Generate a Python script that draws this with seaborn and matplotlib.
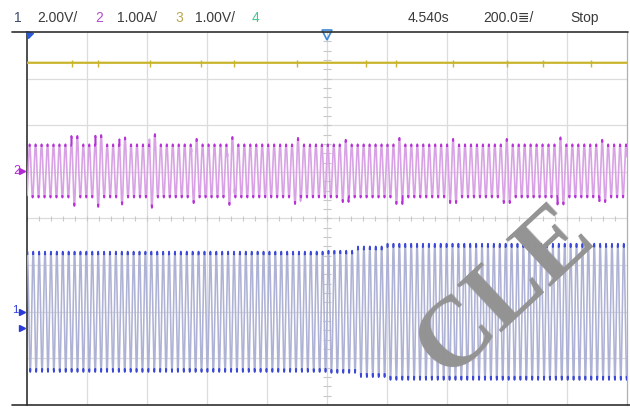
import numpy as np
import pandas as pd
import matplotlib
matplotlib.use('Agg')
import matplotlib.pyplot as plt
from matplotlib.lines import Line2D
import seaborn as sns

# ---------- scope settings ----------
time_per_div = 0.2          # 200.0 ms/div
n_xdiv = 10
n_ydiv = 8

ch1_volts_per_div = 2.0
ch1_offset_div = -2.0
ch1_freq_hz = 50.8
# peak voltage per half division (20 steps across the screen)
ch1_peak_v = [2.58, 2.58, 2.58, 2.58, 2.58, 2.58, 2.58, 2.58, 2.58, 2.58,
              2.62, 2.80, 2.92, 2.92, 2.92, 2.92, 2.92, 2.92, 2.92, 2.92]

ch2_amps_per_div = 1.0
ch2_offset_div = 1.02
ch2_freq_hz = 50.3
ch2_peak_a = 0.57
# occasional overshoots: (position in div, extra amplitude in A)
ch2_spike_pos = [-4.2, -3.8, -3.4, -2.9, -2.2, -1.6, -0.5, 0.3, 1.2, 2.1, 3.0, 3.9, 4.6]
ch2_spike_amp = [0.18, -0.20, 0.15, -0.22, 0.12, 0.16, -0.14, 0.10, 0.14, -0.12, 0.12, 0.15, -0.10]

ch3_volts_per_div = 1.0
ch3_offset_div = 3.34
ch3_glitch_pos = [-4.25, -3.82, -2.95, -2.1, -1.55, -0.5, 0.65, 1.15, 2.1, 3.0, 3.6, 4.4]

header_left = [('1', '#404a6a'), ('2.00V/', '#3a3a3a'), ('2', '#b050c8'),
               ('1.00A/', '#3a3a3a'), ('3', '#b8a850'), ('1.00V/', '#3a3a3a'),
               ('4', '#40c890')]
header_left_x = [14, 37, 95, 117, 175, 195, 252]
header_right = ['4.540s', '200.0\u2263/', 'Stop']
header_right_x = [408, 483, 570]

# ---------- build the traces ----------
t = np.linspace(-n_xdiv / 2 * time_per_div, n_xdiv / 2 * time_per_div, 24000)
xdiv = t / time_per_div

step = np.clip(((xdiv + 5) * 2).astype(int), 0, len(ch1_peak_v) - 1)
ch1_env = np.array(ch1_peak_v)[step]
ch1_phase = np.sin(2 * np.pi * ch1_freq_hz * t)
ch1 = ch1_offset_div + ch1_env * ch1_phase / ch1_volts_per_div

ch2_env = np.full_like(t, ch2_peak_a)
for p, a in zip(ch2_spike_pos, ch2_spike_amp):
    near = np.abs(xdiv - p) < 0.06
    ch2_env[near] += abs(a)
ch2_phase = np.sin(2 * np.pi * ch2_freq_hz * t + 0.7)
ch2 = ch2_offset_div + ch2_env * ch2_phase / ch2_amps_per_div

ch3 = np.full_like(t, ch3_offset_div)

df = pd.DataFrame({'x': xdiv, 'ch1': ch1, 'ch2': ch2, 'ch3': ch3})

# ---------- figure ----------
sns.set_style('white')
plt.rcParams['font.family'] = ['Liberation Sans Narrow', 'Liberation Sans', 'DejaVu Sans']

fig = plt.figure(figsize=(6.3, 4.09), dpi=100)
W, H = 630, 409
ax = fig.add_axes([27 / W, 4 / H, 600 / W, 373 / H])
ax.set_xlim(-5, 5)
ax.set_ylim(-4, 4)

# graticule
for gx in range(-4, 5):
    ax.axvline(gx, color='#dcdcdc', lw=0.9, zorder=0)
for gy in range(-3, 4):
    ax.axhline(gy, color='#dcdcdc', lw=0.9, zorder=0)
minor = np.arange(-5, 5.01, 0.2)
ax.vlines(minor, -0.05, 0.05, color='#c8c8c8', lw=0.8, zorder=0)
minor_y = np.arange(-4, 4.01, 0.2)
ax.hlines(minor_y, -0.06, 0.06, color='#c8c8c8', lw=0.8, zorder=0)

# channel 3 (yellow)
sns.lineplot(data=df, x='x', y='ch3', ax=ax, color='#c9b52c', lw=1.6,
             estimator=None, sort=False, zorder=3)
ax.vlines(ch3_glitch_pos, ch3_offset_div - 0.09, ch3_offset_div + 0.06,
          color='#c9b52c', lw=1.0, zorder=3)

# channel 2 (purple)
sns.lineplot(data=df, x='x', y='ch2', ax=ax, color='#d8a2e4', lw=1.2,
             estimator=None, sort=False, zorder=3)
ch2_pk = np.where(np.abs(ch2_phase) > 0.93, ch2, np.nan)
ax.plot(xdiv, ch2_pk, color='#b832d8', lw=1.2, zorder=4)

# channel 1 (blue)
sns.lineplot(data=df, x='x', y='ch1', ax=ax, color='#aeb2d4', lw=1.15,
             estimator=None, sort=False, zorder=3)
ch1_pk = np.where(np.abs(ch1_phase) > 0.95, ch1, np.nan)
ax.plot(xdiv, ch1_pk, color='#3b48d8', lw=1.2, zorder=4)

ax.set_xlabel('')
ax.set_ylabel('')
ax.set_xticks([])
ax.set_yticks([])
for side in ['top', 'bottom']:
    ax.spines[side].set_visible(False)
ax.spines['left'].set_color('#303030')
ax.spines['left'].set_linewidth(1.2)
ax.spines['right'].set_color('#b0b0b0')
ax.spines['right'].set_linewidth(0.9)

# frame lines across the screen
fig.add_artist(Line2D([12 / W, 628 / W], [1 - 32 / H, 1 - 32 / H],
                      color='#303030', lw=1.2))
fig.add_artist(Line2D([12 / W, 1.0], [1 - 405 / H, 1 - 405 / H],
                      color='#303030', lw=1.2))

# markers
ax.plot([-4.97], [3.95], marker=(3, 0, 45), color='#2a5ad8', ms=6,
        clip_on=False, zorder=6)
ax.plot([0], [3.93], marker='v', mfc='none', mec='#3a8ad8', ms=7, mew=1.2,
        clip_on=False, zorder=6)
ax.plot([-5.08], [ch2_offset_div], marker='>', color='#b328d6', ms=5, clip_on=False)
ax.plot([-5.08], [ch1_offset_div], marker='>', color='#2a3ad8', ms=5, clip_on=False)
ax.plot([-5.08], [ch1_offset_div - 0.34], marker='>', color='#2a3ad8', ms=5, clip_on=False)
fig.text(13 / W, 1 - 171 / H, '2', color='#b328d6', fontsize=9, va='center')
fig.text(12 / W, 1 - 310 / H, '1', color='#2a3ad8', fontsize=8, va='center')

# header
for (txt, col), x in zip(header_left, header_left_x):
    fig.text(x / W, 1 - 18 / H, txt, color=col, fontsize=10, va='center')
for txt, x in zip(header_right, header_right_x):
    fig.text(x / W, 1 - 18 / H, txt, color='#3a3a3a', fontsize=10, va='center')

# watermark
fig.text(505 / W, 1 - 292 / H, 'CLE', color='#939393', fontsize=72,
         fontweight='bold', family=['Liberation Serif'], rotation=43,
         ha='center', va='center', zorder=10)

fig.savefig('out.png', dpi=100)
